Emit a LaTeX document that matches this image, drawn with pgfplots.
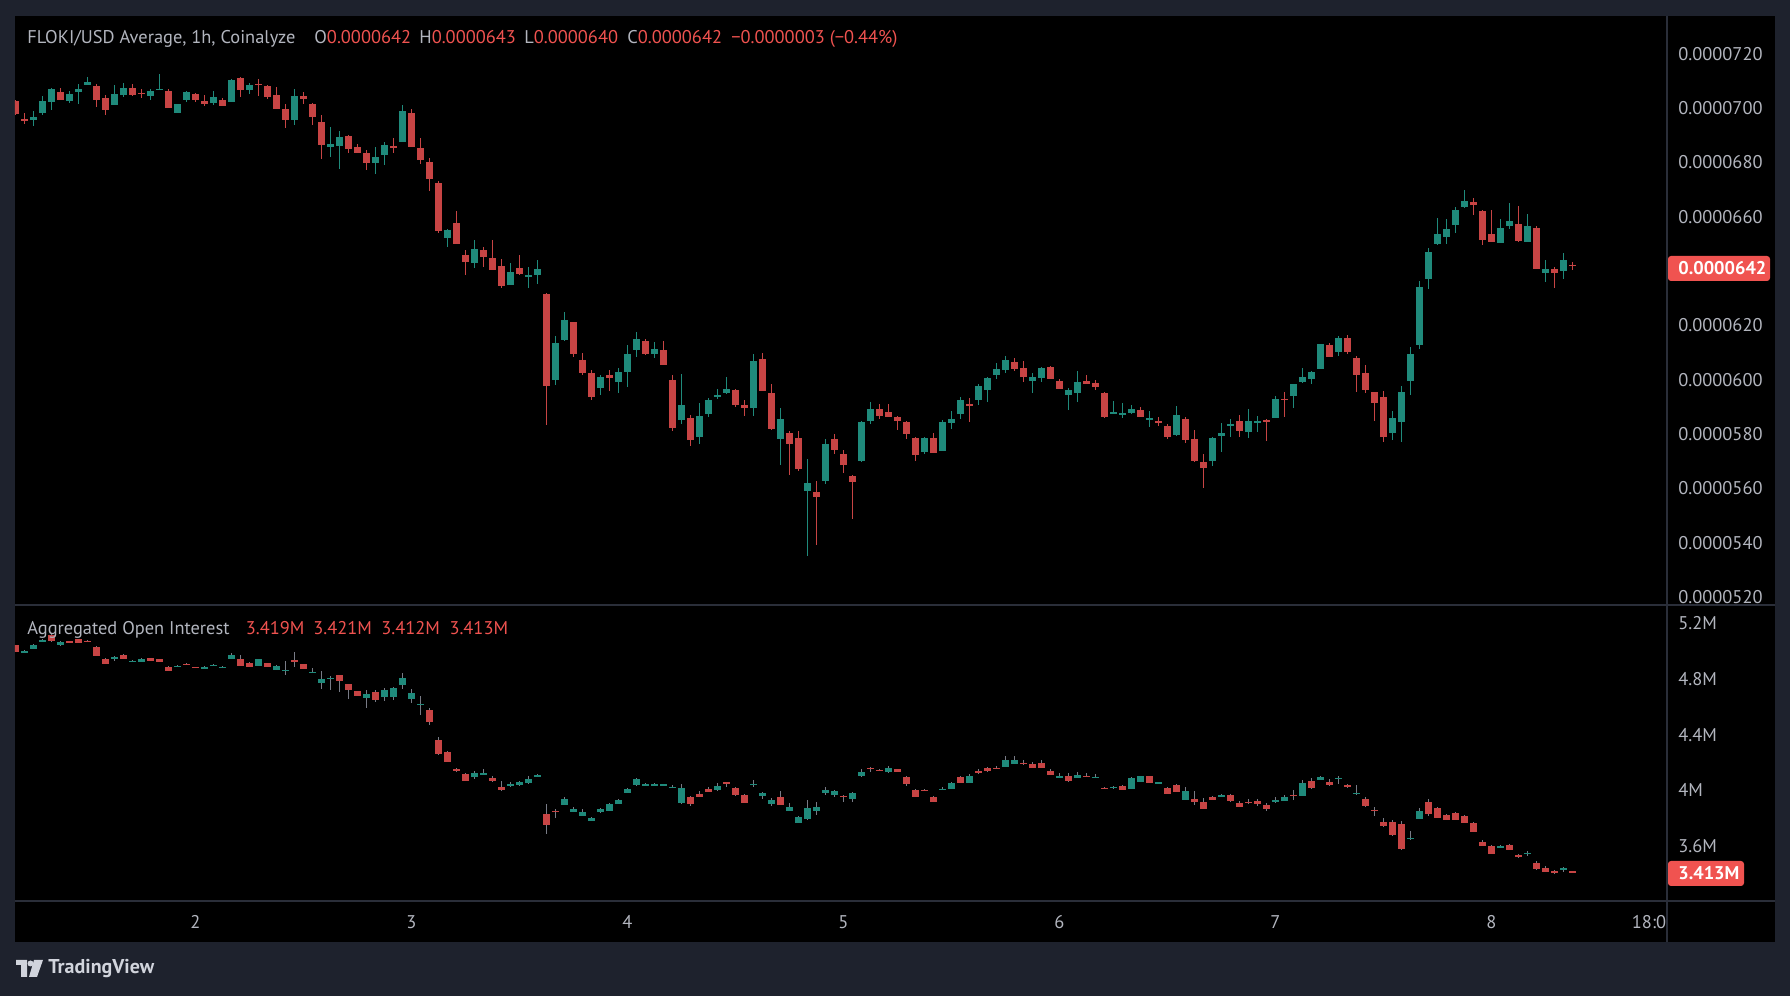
\documentclass[border=0pt]{standalone}
\usepackage{pgfplots}
\pgfplotsset{compat=1.18}
\usepackage{pgfplotstable}
\usepackage{fontspec}
\setmainfont{PT Sans}
\definecolor{bgout}{HTML}{1E222D}
\definecolor{gridc}{HTML}{2A2E39}
\definecolor{txt}{HTML}{B2B5BE}
\definecolor{upc}{HTML}{1F8A7B}
\definecolor{dnc}{HTML}{C74444}
\definecolor{redtxt}{HTML}{F05350}
\definecolor{wickc}{HTML}{787B86}
\definecolor{logoc}{HTML}{D1D4DC}
\newcommand\tfont{\fontsize{9.2}{11}\selectfont}

% price in units of 1e-7 USD; t = hours since day 1 00:00
\pgfplotstableread{
t o h l c
4 702.8 703.0 697.4 697.7
5 695.8 698.3 694.2 695.6
6 695.8 699.0 693.5 696.9
7 698.3 704.4 697.3 702.7
8 702.1 707.5 699.3 707.1
9 706.0 707.5 703.0 703.0
10 702.7 706.4 702.0 705.2
11 706.1 708.9 701.6 706.9
12 708.4 711.6 708.4 709.7
13 708.3 708.8 700.5 703.0
14 703.8 704.9 697.6 699.3
15 701.3 708.5 701.3 705.2
16 704.9 709.3 704.2 707.5
17 707.5 708.9 704.6 704.9
18 705.6 707.1 703.8 705.3
19 704.6 706.9 703.0 706.4
20 706.9 712.6 706.5 707.1
21 706.4 707.1 700.1 700.1
22 698.3 701.6 698.3 701.6
23 703.0 706.4 702.3 706.0
24 705.2 705.7 702.3 703.0
25 702.7 704.9 700.9 701.6
26 702.0 706.4 701.3 704.2
27 703.0 703.8 700.9 700.9
28 702.3 710.8 702.3 710.4
29 711.2 711.6 704.2 706.7
30 706.7 709.3 705.2 708.5
31 708.9 710.8 704.6 708.6
32 708.3 708.5 703.4 704.2
33 704.9 707.9 699.7 699.7
34 699.7 701.6 692.7 695.6
35 695.6 707.2 693.9 704.6
36 704.6 706.0 701.6 703.4
37 701.6 702.0 693.9 696.8
38 695.0 697.6 681.4 686.5
39 685.7 693.1 682.1 686.8
40 686.1 691.7 677.7 689.4
41 689.8 690.2 683.5 685.1
42 685.7 686.8 683.5 683.5
43 683.5 684.7 677.3 679.8
44 679.8 685.7 675.7 682.1
45 682.8 687.6 679.1 686.5
46 685.8 689.0 683.5 685.6
47 687.6 701.3 687.6 699.0
48 698.3 699.7 685.7 685.7
49 685.4 689.0 679.4 681.0
50 680.2 681.7 669.5 674.0
51 672.4 673.2 654.1 654.8
52 652.3 655.6 649.0 655.2
53 657.8 662.2 650.0 650.0
54 646.0 647.8 638.6 643.3
55 643.0 651.5 641.2 648.2
56 647.8 649.0 641.6 645.3
57 644.9 651.5 640.4 640.4
58 641.9 644.5 633.8 634.5
59 634.9 643.0 634.9 639.6
60 641.2 646.0 638.6 639.0
61 637.9 641.6 633.8 638.6
62 638.6 644.1 635.3 640.8
63 631.6 632.0 583.4 597.7
64 600.0 616.2 598.1 613.5
65 614.6 625.0 614.3 622.0
66 621.3 621.3 608.4 609.5
67 607.2 609.9 601.8 602.5
68 602.5 603.7 592.6 593.7
69 597.0 601.8 594.4 600.9
70 601.8 603.7 595.9 600.6
71 599.2 604.3 595.1 602.9
72 602.9 612.9 597.3 609.5
73 610.9 617.6 608.4 615.0
74 614.3 615.0 609.2 609.5
75 609.5 613.9 608.0 611.3
76 610.9 614.3 605.5 605.5
77 600.0 601.8 581.2 582.2
78 585.2 602.1 583.8 590.7
79 585.9 587.1 575.6 577.8
80 578.9 591.4 576.4 586.7
81 587.3 593.3 586.3 592.6
82 593.7 596.7 592.9 594.4
83 595.1 601.0 594.7 596.7
84 596.3 596.7 590.0 590.7
85 590.7 592.6 586.7 589.6
86 589.6 609.5 586.7 606.9
87 607.6 609.9 595.9 595.9
88 595.1 598.4 581.5 581.9
89 578.2 589.6 568.6 585.6
90 580.5 581.1 564.9 576.4
91 578.5 581.1 566.4 567.2
92 559.0 570.8 535.0 561.9
93 558.6 562.7 539.1 556.9
94 562.7 578.2 561.6 576.4
95 578.2 580.1 572.7 574.1
96 572.7 574.1 565.7 568.6
97 564.5 564.9 548.7 562.4
98 570.1 584.8 569.7 584.4
99 584.8 591.8 583.8 589.3
100 589.3 591.0 585.6 586.7
101 588.1 591.0 586.3 586.3
102 586.3 586.7 581.5 584.8
103 584.4 584.8 578.2 580.1
104 578.5 578.9 570.1 572.3
105 573.4 578.9 572.7 578.5
106 578.5 580.5 573.1 573.1
107 573.8 585.2 573.8 584.4
108 584.0 588.5 581.9 585.6
109 587.3 593.7 585.6 592.6
110 591.0 593.3 584.4 590.7
111 592.6 598.4 590.7 597.7
112 596.3 601.0 591.8 600.6
113 601.8 606.2 600.2 603.9
114 603.5 608.8 602.5 607.2
115 606.6 608.0 603.2 603.9
116 604.3 606.9 599.2 601.0
117 599.6 602.5 595.1 601.0
118 600.6 604.7 599.2 604.3
119 604.7 605.1 600.2 600.2
120 599.6 600.2 596.7 596.7
121 594.4 597.0 588.9 596.3
122 595.1 603.2 591.8 599.2
123 599.6 601.8 598.4 598.4
124 598.8 600.0 596.3 597.3
125 595.1 595.5 585.9 586.3
126 587.7 592.2 587.3 588.1
127 587.3 591.4 585.9 587.7
128 587.7 590.7 587.3 589.3
129 588.9 590.0 586.3 586.3
130 585.2 588.5 582.6 585.9
131 584.8 586.3 583.0 584.0
132 583.0 583.8 578.2 578.9
133 579.7 590.4 579.3 587.1
134 585.6 586.3 576.8 577.8
135 578.2 581.5 569.7 570.1
136 569.7 572.7 560.2 567.6
137 570.1 578.9 568.2 578.5
138 579.3 584.0 573.4 580.5
139 583.0 585.6 578.9 583.8
140 584.8 587.1 578.9 581.1
141 580.7 589.3 578.5 584.8
142 584.4 586.7 580.7 584.8
143 585.2 585.6 577.4 584.4
144 585.9 594.0 585.9 593.0
145 593.0 595.5 586.3 592.6
146 594.0 598.4 589.6 598.4
147 599.2 604.3 598.8 601.0
148 600.2 603.2 598.4 602.9
149 603.9 613.2 603.9 613.2
150 612.9 613.5 608.4 608.4
151 610.2 616.2 608.8 615.4
152 615.4 616.6 609.5 610.2
153 608.0 608.8 595.5 601.8
154 602.5 605.5 595.1 596.3
155 595.5 595.5 584.8 591.4
156 593.7 595.9 577.1 578.9
157 580.5 588.5 577.8 585.9
158 584.4 597.7 577.1 595.5
159 599.6 612.1 594.4 609.5
160 612.9 636.5 611.3 634.2
161 637.1 648.6 633.4 647.0
162 650.0 659.5 649.6 653.7
163 652.7 659.3 650.0 655.6
164 657.0 663.6 654.1 662.6
165 663.6 669.9 663.2 665.9
166 665.5 666.9 660.7 664.4
167 662.2 662.6 649.6 651.5
168 653.7 662.6 650.7 650.7
169 650.4 659.3 650.4 656.0
170 656.6 665.2 655.6 658.5
171 657.4 664.0 650.7 651.1
172 650.7 661.1 650.7 656.6
173 656.0 656.6 640.8 640.8
174 639.4 644.1 636.1 640.8
175 640.8 641.6 633.8 639.4
176 640.0 646.7 637.1 644.1
177 642.4 643.2 640.3 642.0
}\price

% aggregated open interest, millions
\pgfplotstableread{
t o h l c
4 5.042 5.045 4.993 4.995
5 4.988 5.009 4.983 5.002
6 5.016 5.050 5.014 5.042
7 5.073 5.088 5.069 5.078
8 5.114 5.121 5.069 5.073
9 5.045 5.071 5.040 5.066
10 5.071 5.076 5.057 5.059
11 5.085 5.088 5.057 5.059
12 5.076 5.078 5.064 5.066
13 5.028 5.035 4.964 4.966
14 4.942 4.947 4.906 4.909
15 4.945 4.966 4.930 4.959
16 4.971 4.978 4.942 4.945
17 4.925 4.935 4.923 4.930
18 4.923 4.947 4.921 4.942
19 4.949 4.954 4.928 4.930
20 4.940 4.942 4.921 4.923
21 4.885 4.890 4.856 4.859
22 4.890 4.899 4.887 4.894
23 4.909 4.913 4.899 4.904
24 4.885 4.887 4.878 4.880
25 4.873 4.890 4.870 4.885
26 4.897 4.906 4.892 4.902
27 4.882 4.890 4.880 4.887
28 4.945 4.985 4.945 4.971
29 4.940 4.971 4.894 4.894
30 4.913 4.923 4.885 4.887
31 4.894 4.945 4.892 4.942
32 4.913 4.916 4.885 4.887
33 4.866 4.899 4.863 4.892
34 4.859 4.928 4.830 4.863
35 4.935 4.995 4.887 4.930
36 4.904 4.909 4.868 4.871
37 4.844 4.878 4.840 4.849
38 4.773 4.856 4.730 4.799
39 4.804 4.820 4.722 4.808
40 4.828 4.830 4.708 4.787
41 4.763 4.765 4.656 4.722
42 4.713 4.715 4.677 4.680
43 4.665 4.720 4.594 4.691
44 4.703 4.720 4.636 4.648
45 4.672 4.734 4.641 4.720
46 4.672 4.742 4.651 4.732
47 4.756 4.842 4.730 4.806
48 4.658 4.727 4.627 4.699
49 4.615 4.675 4.541 4.620
50 4.577 4.589 4.472 4.491
51 4.362 4.383 4.250 4.257
52 4.276 4.283 4.202 4.204
53 4.154 4.161 4.133 4.135
54 4.118 4.123 4.066 4.068
55 4.092 4.135 4.078 4.125
56 4.116 4.154 4.114 4.121
57 4.090 4.104 4.061 4.063
58 4.025 4.068 3.997 3.999
59 4.028 4.059 4.023 4.047
60 4.035 4.063 4.032 4.061
61 4.049 4.106 4.047 4.082
62 4.102 4.114 4.094 4.109
63 3.832 3.903 3.684 3.748
64 3.851 3.868 3.801 3.846
65 3.896 3.951 3.894 3.939
66 3.846 3.882 3.844 3.868
67 3.817 3.868 3.815 3.846
68 3.782 3.810 3.779 3.803
69 3.846 3.875 3.839 3.868
70 3.853 3.906 3.851 3.903
71 3.903 3.934 3.901 3.932
72 3.982 4.013 3.980 4.011
73 4.039 4.085 4.032 4.082
74 4.032 4.054 4.030 4.047
75 4.032 4.054 4.030 4.047
76 4.037 4.047 4.032 4.042
77 4.020 4.037 4.018 4.025
78 3.911 4.047 3.903 4.018
79 3.954 3.961 3.889 3.903
80 3.975 3.997 3.951 3.954
81 4.011 4.025 3.987 3.989
82 4.004 4.054 3.997 4.032
83 4.056 4.061 4.025 4.051
84 4.018 4.020 3.961 3.968
85 3.968 3.975 3.908 3.911
86 4.042 4.075 4.025 4.047
87 3.961 3.989 3.939 3.982
88 3.903 3.946 3.889 3.932
89 3.954 3.997 3.894 3.896
90 3.853 3.910 3.851 3.882
91 3.767 3.817 3.765 3.810
92 3.796 3.932 3.789 3.875
93 3.853 3.918 3.825 3.882
94 3.982 4.025 3.968 4.004
95 3.968 4.004 3.954 3.997
96 3.961 3.968 3.918 3.954
97 3.939 3.985 3.918 3.982
98 4.104 4.154 4.097 4.133
99 4.161 4.168 4.133 4.154
100 4.147 4.154 4.138 4.140
101 4.133 4.176 4.126 4.161
102 4.154 4.156 4.130 4.133
103 4.097 4.104 4.032 4.047
104 4.004 4.006 3.951 3.954
105 4.004 4.006 3.994 3.997
106 3.954 3.956 3.915 3.918
107 4.004 4.025 4.001 4.011
108 4.011 4.061 4.008 4.054
109 4.097 4.104 4.051 4.054
110 4.054 4.118 4.051 4.104
111 4.140 4.154 4.118 4.125
112 4.161 4.164 4.133 4.140
113 4.161 4.176 4.152 4.154
114 4.168 4.247 4.166 4.218
115 4.190 4.247 4.188 4.218
116 4.197 4.218 4.183 4.190
117 4.190 4.204 4.159 4.161
118 4.197 4.218 4.159 4.161
119 4.140 4.154 4.109 4.111
120 4.090 4.126 4.087 4.104
121 4.104 4.126 4.061 4.068
122 4.090 4.133 4.087 4.111
123 4.104 4.126 4.097 4.099
124 4.090 4.118 4.087 4.097
125 4.018 4.023 4.008 4.011
126 4.018 4.030 4.011 4.023
127 4.032 4.035 4.001 4.004
128 4.011 4.097 4.008 4.090
129 4.061 4.106 4.059 4.104
130 4.104 4.106 4.051 4.054
131 4.049 4.061 4.042 4.056
132 4.018 4.020 3.973 3.975
133 4.039 4.047 3.987 3.989
134 3.932 4.025 3.930 3.997
135 3.939 3.997 3.896 3.918
136 3.918 3.946 3.865 3.868
137 3.954 3.961 3.930 3.932
138 3.954 3.975 3.949 3.968
139 3.968 3.975 3.918 3.925
140 3.911 3.925 3.879 3.882
141 3.918 3.939 3.903 3.911
142 3.925 3.939 3.889 3.903
143 3.896 3.910 3.853 3.868
144 3.918 3.954 3.910 3.932
145 3.925 3.968 3.922 3.954
146 3.968 4.004 3.932 3.963
147 3.961 4.075 3.958 4.054
148 4.068 4.090 4.011 4.018
149 4.075 4.104 4.073 4.097
150 4.061 4.082 4.032 4.039
151 4.082 4.104 4.047 4.090
152 4.039 4.047 4.018 4.025
153 3.975 4.039 3.968 3.982
154 3.939 3.954 3.882 3.889
155 3.860 3.882 3.817 3.853
156 3.774 3.803 3.739 3.746
157 3.774 3.789 3.674 3.681
158 3.760 3.782 3.574 3.581
159 3.648 3.710 3.645 3.660
160 3.796 3.875 3.794 3.853
161 3.918 3.939 3.817 3.832
162 3.875 3.882 3.801 3.803
163 3.825 3.827 3.786 3.789
164 3.839 3.846 3.786 3.789
165 3.817 3.820 3.765 3.767
166 3.767 3.774 3.700 3.703
167 3.631 3.645 3.600 3.602
168 3.602 3.610 3.543 3.545
169 3.588 3.610 3.586 3.602
170 3.610 3.617 3.572 3.574
171 3.538 3.545 3.514 3.517
172 3.545 3.560 3.531 3.552
173 3.474 3.488 3.424 3.431
174 3.438 3.452 3.414 3.416
175 3.416 3.424 3.395 3.409
176 3.431 3.445 3.416 3.438
177 3.419 3.421 3.412 3.413
}\oi

\pgfplotsset{
  wick/.style 2 args={draw=none, mark=none, forget plot,
    error bars/y dir=both, error bars/y explicit, error bars/error mark=none,
    error bars/error bar style={line width=#2, draw=#1, solid}},
  body/.style={draw=none, mark=none, forget plot,
    error bars/y dir=both, error bars/y explicit, error bars/error mark=none,
    error bars/error bar style={line width=3.4pt, draw=#1, solid}},
  tvaxis/.style={anchor=south west, scale only axis, width=826pt,
    xmin=3.97, xmax=187.5, axis line style={draw=none},
    major tick length=0pt, ytick pos=right, yticklabel pos=right,
    yticklabel style={anchor=west, inner sep=0pt, xshift=5.5pt, font=\tfont, text=txt},
    clip=true},
}

\begin{document}
\begin{tikzpicture}
\begin{scope}[x=0.5pt,y=0.5pt]
\fill[bgout] (0,0) rectangle (1790,996);
\fill[black] (15,54) rectangle (1775,980);
\draw[gridc, line width=0.6pt] (15,391) -- (1775,391);
\draw[gridc, line width=0.6pt] (15,95) -- (1775,95);
\draw[gridc, line width=0.6pt] (1667,54) -- (1667,980);
\end{scope}

% price panel
\begin{axis}[tvaxis, at={(7.5pt,195.5pt)}, height=294.5pt,
  ymin=517.1, ymax=733.9, xtick=\empty,
  ytick={520,540,560,580,600,620,660,680,700,720},
  yticklabels={0.0000520,0.0000540,0.0000560,0.0000580,0.0000600,0.0000620,0.0000660,0.0000680,0.0000700,0.0000720}]
\addplot[restrict expr to domain={\thisrow{c}-\thisrow{o}}{0:100000}, wick={upc}{0.6pt}]
  table[x=t, y expr={(\thisrow{h}+\thisrow{l})/2}, y error expr={(\thisrow{h}-\thisrow{l})/2}] {\price};
\addplot[restrict expr to domain={\thisrow{c}-\thisrow{o}}{0:100000}, body=upc]
  table[x=t, y expr={(\thisrow{o}+\thisrow{c})/2}, y error expr={max(abs(\thisrow{c}-\thisrow{o})/2,0.2)}] {\price};
\addplot[restrict expr to domain={\thisrow{c}-\thisrow{o}}{-100000:-0.00001}, wick={dnc}{0.6pt}]
  table[x=t, y expr={(\thisrow{h}+\thisrow{l})/2}, y error expr={(\thisrow{h}-\thisrow{l})/2}] {\price};
\addplot[restrict expr to domain={\thisrow{c}-\thisrow{o}}{-100000:-0.00001}, body=dnc]
  table[x=t, y expr={(\thisrow{o}+\thisrow{c})/2}, y error expr={max(abs(\thisrow{c}-\thisrow{o})/2,0.2)}] {\price};
\end{axis}

% open interest panel
\begin{axis}[tvaxis, at={(7.5pt,47.5pt)}, height=148pt,
  ymin=3.204, ymax=5.3315,
  ytick={3.6,4,4.4,4.8,5.2}, yticklabels={3.6M,4M,4.4M,4.8M,5.2M},
  xtick={24,48,72,96,120,144,168,185.5}, xticklabels={2,3,4,5,6,7,8,18:0},
  xticklabel style={anchor=base, inner sep=0pt, yshift=-14pt, font=\tfont, text=txt}]
\addplot[wick={wickc}{0.6pt}]
  table[x=t, y expr={(\thisrow{h}+\thisrow{l})/2}, y error expr={(\thisrow{h}-\thisrow{l})/2}] {\oi};
\addplot[restrict expr to domain={\thisrow{c}-\thisrow{o}}{0:100000}, body=upc]
  table[x=t, y expr={(\thisrow{o}+\thisrow{c})/2}, y error expr={max(abs(\thisrow{c}-\thisrow{o})/2,0.0036)}] {\oi};
\addplot[restrict expr to domain={\thisrow{c}-\thisrow{o}}{-100000:-0.000001}, body=dnc]
  table[x=t, y expr={(\thisrow{o}+\thisrow{c})/2}, y error expr={max(abs(\thisrow{c}-\thisrow{o})/2,0.0036)}] {\oi};
\end{axis}

\begin{scope}[x=0.5pt,y=0.5pt]
% header
\node[anchor=base west, inner sep=0pt, font=\tfont, text=txt] at (27,952.7) {FLOKI/USD Average, 1h, Coinalyze};
\node[anchor=base west, inner sep=0pt, font=\tfont] at (314,952.7) {\textcolor{txt}{O}\textcolor{redtxt}{0.0000642}};
\node[anchor=base west, inner sep=0pt, font=\tfont] at (419,952.7) {\textcolor{txt}{H}\textcolor{redtxt}{0.0000643}};
\node[anchor=base west, inner sep=0pt, font=\tfont] at (524,952.7) {\textcolor{txt}{L}\textcolor{redtxt}{0.0000640}};
\node[anchor=base west, inner sep=0pt, font=\tfont] at (627,952.7) {\textcolor{txt}{C}\textcolor{redtxt}{0.0000642}};
\node[anchor=base west, inner sep=0pt, font=\tfont, text=redtxt] at (731,952.7) {−0.0000003 (−0.44\%)};
% OI title
\node[anchor=base west, inner sep=0pt, font=\tfont, text=txt] at (27,361) {Aggregated Open Interest};
\node[anchor=base west, inner sep=0pt, font=\tfont, text=redtxt] at (245.5,361) {3.419M};
\node[anchor=base west, inner sep=0pt, font=\tfont, text=redtxt] at (312.9,361) {3.421M};
\node[anchor=base west, inner sep=0pt, font=\tfont, text=redtxt] at (381,361) {3.412M};
\node[anchor=base west, inner sep=0pt, font=\tfont, text=redtxt] at (449.1,361) {3.413M};
% last value boxes
\fill[redtxt, rounded corners=1.5pt] (1668,715) rectangle (1770,740);
\node[anchor=west, inner sep=0pt, font=\tfont\bfseries, text=white] at (1678,727.5) {0.0000642};
\fill[redtxt, rounded corners=1.5pt] (1668,110) rectangle (1744,135);
\node[anchor=west, inner sep=0pt, font=\tfont\bfseries, text=white] at (1678,122.5) {3.413M};
% TradingView logo
\fill[logoc] (16,36) rectangle (27,31) (21,31) rectangle (27,19);
\fill[logoc] (30.5,32.5) circle (3);
\fill[logoc] (34,36) -- (43,36) -- (37,19) -- (29,19) -- cycle;
\node[anchor=west, inner sep=0pt, font=\fontsize{10}{12}\selectfont\bfseries, text=logoc] at (48,27) {TradingView};
\end{scope}
\pgfresetboundingbox
\path[use as bounding box] (0,0) rectangle (895pt,498pt);
\end{tikzpicture}
\end{document}
